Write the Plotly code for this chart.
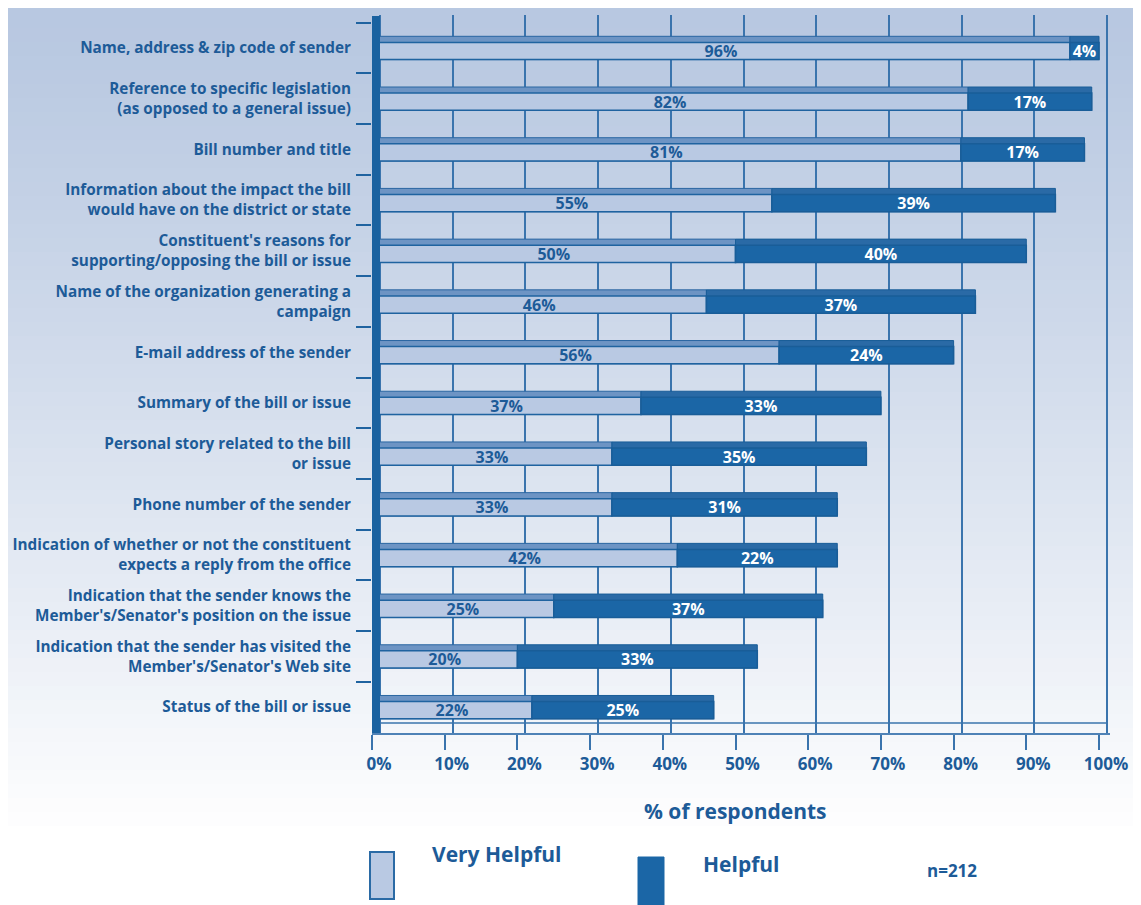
import plotly.graph_objects as go

categories = [
    "Name, address & zip code of sender",
    "Reference to specific legislation<br>(as opposed to a general issue)",
    "Bill number and title",
    "Information about the impact the bill<br>would have on the district or state",
    "Constituent's reasons for<br>supporting/opposing the bill or issue",
    "Name of the organization generating a<br>campaign",
    "E-mail address of the sender",
    "Summary of the bill or issue",
    "Personal story related to the bill<br>or issue",
    "Phone number of the sender",
    "Indication of whether or not the constituent<br>expects a reply from the office",
    "Indication that the sender knows the<br>Member's/Senator's position on the issue",
    "Indication that the sender has visited the<br>Member's/Senator's Web site",
    "Status of the bill or issue",
]
very_helpful = [96, 82, 81, 55, 50, 46, 56, 37, 33, 33, 42, 25, 20, 22]
helpful = [4, 17, 17, 39, 40, 37, 24, 33, 35, 31, 22, 37, 33, 25]
x_ticks = [0, 10, 20, 30, 40, 50, 60, 70, 80, 90, 100]
x_tick_labels = ["0%", "10%", "20%", "30%", "40%", "50%", "60%", "70%", "80%", "90%", "100%"]

W, H = 1141, 905
OFF = 8  # page body margin
PL, PR, PT, PB = 372, 1110, 15, 733
PW, PH = PR - PL, PB - PT
SCALE = 7.27  # px per %
XMAX = PW / SCALE
BACK = 8 / SCALE

def px(x):
    return (x - PL) / PW

def py(y):
    return (PB - y) / PH

FONT = "Open Sans"
DARK = "#1b66a6"
DARK_TOP = "#2a6aa6"
LIGHT = "#b9c9e3"
LIGHT_TOP = "#6d94c4"
TXT = "#1d5b98"
GRID = "#3a74ad"

BAR_W = 0.46
FACE_W = 0.34
off_top = -BAR_W / 2
off_face = BAR_W / 2 - FACE_W

fig = go.Figure()
fig.add_trace(go.Bar(
    y=categories, x=very_helpful, base=0, orientation="h",
    marker=dict(color=LIGHT_TOP, line=dict(color="#2a66a2", width=1)),
    width=BAR_W, offset=off_top, hoverinfo="skip", showlegend=False,
))
fig.add_trace(go.Bar(
    y=categories, x=helpful, base=very_helpful, orientation="h",
    marker=dict(color=DARK_TOP, line=dict(color="#195d98", width=1)),
    width=BAR_W, offset=off_top, hoverinfo="skip", showlegend=False,
))
fig.add_trace(go.Bar(
    y=categories, x=very_helpful, base=0, orientation="h", name="Very Helpful",
    marker=dict(color=LIGHT, line=dict(color="#1f63a0", width=1.5)),
    text=[f"{v}%" for v in very_helpful], textposition="inside",
    insidetextanchor="middle", textangle=0, constraintext="none",
    textfont=dict(family=FONT, size=16, color=TXT, weight="bold"),
    width=FACE_W, offset=off_face, hoverinfo="skip",
))
fig.add_trace(go.Bar(
    y=categories, x=helpful, base=very_helpful, orientation="h", name="Helpful",
    marker=dict(color=DARK, line=dict(color="#195d98", width=1.5)),
    text=[f"{v}%" for v in helpful], textposition="inside",
    insidetextanchor="middle", textangle=0, constraintext="none",
    textfont=dict(family=FONT, size=16, color="white", weight="bold"),
    width=FACE_W, offset=off_face, hoverinfo="skip",
))
fig.add_trace(go.Scatter(x=[None], y=[categories[0]], xaxis="x2", yaxis="y",
                         mode="markers", hoverinfo="skip", showlegend=False))

shapes = []
top_c = (0xB8, 0xC8, 0xE1)
bot_c = (0xFF, 0xFF, 0xFF)
n = 60
y_end = 840
for i in range(n):
    y0 = i * y_end / n
    y1 = (i + 1) * y_end / n
    t = (i / (n - 1)) ** 1.2
    c = tuple(int(top_c[k] + (bot_c[k] - top_c[k]) * t) for k in range(3))
    shapes.append(dict(type="rect", xref="paper", yref="paper", layer="below",
                       x0=px(5), x1=px(W + 20), y0=py(y1 + 1), y1=py(max(y0, 5)),
                       line=dict(width=0), fillcolor="rgb(%d,%d,%d)" % c))
shapes.append(dict(type="line", xref="paper", yref="paper", layer="below",
                   x0=px(380), x1=px(1107), y0=py(723), y1=py(723),
                   line=dict(color=GRID, width=1.5)))
shapes.append(dict(type="line", xref="paper", yref="paper",
                   x0=px(376), x1=px(376), y0=py(733), y1=py(16),
                   line=dict(color="#1a62a0", width=8)))
shapes.append(dict(type="rect", xref="paper", yref="paper",
                   x0=px(370), x1=px(394), y0=py(899), y1=py(852),
                   fillcolor=LIGHT, line=dict(color="#2a6aa5", width=2)))
shapes.append(dict(type="rect", xref="paper", yref="paper",
                   x0=px(638), x1=px(664), y0=py(905), y1=py(857),
                   fillcolor=DARK, line=dict(color=DARK, width=1)))

annotations = [
    dict(text="% of respondents", xref="paper", yref="paper", x=px(735), y=py(827),
         showarrow=False, font=dict(family=FONT, size=21, color=TXT, weight="bold")),
    dict(text="Very Helpful", xref="paper", yref="paper", x=px(430), y=py(870),
         xanchor="left", showarrow=False, font=dict(family=FONT, size=21, color=TXT, weight="bold")),
    dict(text="Helpful", xref="paper", yref="paper", x=px(701), y=py(880),
         xanchor="left", showarrow=False, font=dict(family=FONT, size=21, color=TXT, weight="bold")),
    dict(text="n=212", xref="paper", yref="paper", x=px(925), y=py(884),
         xanchor="left", showarrow=False, font=dict(family=FONT, size=17, color=TXT, weight="bold")),
]

fig.update_layout(
    width=W, height=H,
    margin=dict(l=PL - OFF, r=W - (PR - OFF), t=PT - OFF, b=H - (PB - OFF), pad=0,
                autoexpand=False),
    barmode="overlay",
    paper_bgcolor="white", plot_bgcolor="rgba(0,0,0,0)",
    showlegend=False,
    shapes=shapes, annotations=annotations,
    xaxis=dict(range=[0, XMAX], tickvals=x_ticks, ticktext=x_tick_labels,
               showgrid=False, automargin=False,
               ticks="outside", ticklen=15, tickcolor=GRID, tickwidth=1.5,
               ticklabelshift=7,
               showline=True, linecolor="#4f82b6", linewidth=2,
               tickfont=dict(family=FONT, size=17, color=TXT, weight="bold"),
               zeroline=False, fixedrange=True),
    xaxis2=dict(overlaying="x", range=[-BACK, XMAX - BACK], tickvals=x_ticks,
                showticklabels=False, ticks="", showgrid=True, automargin=False,
                gridcolor=GRID, gridwidth=1.5, zeroline=False, fixedrange=True),
    yaxis=dict(range=[13.51, -0.65], tickson="boundaries", ticks="outside",
               ticklen=15, tickcolor="#1f63a0", tickwidth=1.5,
               ticklabelstandoff=20, automargin=False,
               showline=False, showgrid=False,
               tickfont=dict(family=FONT, size=15.3, color=TXT, weight="bold"),
               fixedrange=True),
)

fig.write_html("out.html")
